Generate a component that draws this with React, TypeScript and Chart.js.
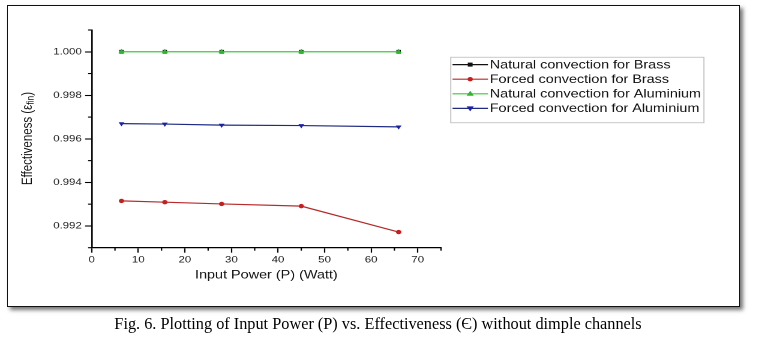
import React, { useEffect, useRef } from 'react';
import { Chart, registerables } from 'chart.js';

Chart.register(...registerables);

// ---- data ----
const powerWatt = [6.4, 15.7, 27.9, 45, 65.9];
const naturalBrass = [1.0, 1.0, 1.0, 1.0, 1.0];
const forcedBrass = [0.99315, 0.99309, 0.99301, 0.99291, 0.99172];
const naturalAluminium = [1.0, 1.0, 1.0, 1.0, 1.0];
const forcedAluminium = [0.9967, 0.99668, 0.99663, 0.99661, 0.99655];

const seriesNames = [
  'Natural convection for Brass',
  'Forced convection for Brass',
  'Natural convection for Aluminium',
  'Forced convection for Aluminium',
];
const xMajorTicks = [0, 10, 20, 30, 40, 50, 60, 70];
const xMinorTicks = [5, 15, 25, 35, 45, 55, 65, 75];
const yMajorTicks = [0.992, 0.994, 0.996, 0.998, 1.0];
const yMinorTicks = [0.991, 0.993, 0.995, 0.997, 0.999, 1.001];
const xTitle = 'Input Power (P) (Watt)';
const yTitleMain = 'Effectiveness (ε';
const yTitleSub = 'fin';
const yTitleEnd = ')';
const caption = 'Fig. 6. Plotting of Input Power (P) vs. Effectiveness (Є) without dimple channels';

// ---- styles ----
const SX = 1.2; // the reference figure is horizontally stretched
const FRAME_W = 634;
const SANS = '"Liberation Sans", Arial, sans-serif';
const colors = {
  black: '#111111',
  red: '#b52a2a',
  redPt: '#c81e1e',
  green: '#38cc38',
  greenPt: '#2fb52f',
  blue: '#1f2a80',
  bluePt: '#1a22a8',
};

function drawMarker(ctx: CanvasRenderingContext2D, style: string, x: number, y: number, color: string) {
  ctx.fillStyle = color;
  ctx.beginPath();
  if (style === 'rect') {
    ctx.rect(x - 2, y - 2, 4, 4);
  } else if (style === 'circle') {
    ctx.arc(x, y, 2.2, 0, Math.PI * 2);
  } else if (style === 'up') {
    ctx.moveTo(x, y - 3);
    ctx.lineTo(x + 3, y + 2);
    ctx.lineTo(x - 3, y + 2);
    ctx.closePath();
  } else {
    ctx.moveTo(x, y + 3);
    ctx.lineTo(x + 3, y - 2);
    ctx.lineTo(x - 3, y - 2);
    ctx.closePath();
  }
  ctx.fill();
}

const decorPlugin = {
  id: 'decor',
  afterDraw(chart: any) {
    const ctx: CanvasRenderingContext2D = chart.ctx;
    const xs = chart.scales.x;
    const ys = chart.scales.y;
    const area = chart.chartArea;
    ctx.save();
    // minor ticks
    ctx.strokeStyle = '#000';
    ctx.lineWidth = 1.1;
    xMinorTicks.forEach((v) => {
      const px = xs.getPixelForValue(v);
      ctx.beginPath();
      ctx.moveTo(px, area.bottom);
      ctx.lineTo(px, area.bottom + 3);
      ctx.stroke();
    });
    yMinorTicks.forEach((v) => {
      const py = ys.getPixelForValue(v);
      ctx.beginPath();
      ctx.moveTo(area.left - 3, py);
      ctx.lineTo(area.left, py);
      ctx.stroke();
    });

    // y axis title with subscript
    ctx.save();
    ctx.translate(23.3, 138.5);
    ctx.rotate(-Math.PI / 2);
    ctx.fillStyle = '#111';
    ctx.textBaseline = 'middle';
    const mainFont = `11.5px ${SANS}`;
    const subFont = `8.5px ${SANS}`;
    ctx.font = mainFont;
    const w1 = ctx.measureText(yTitleMain).width;
    const w3 = ctx.measureText(yTitleEnd).width;
    ctx.font = subFont;
    const w2 = ctx.measureText(yTitleSub).width;
    let cx = -(w1 + w2 + w3) / 2;
    ctx.font = mainFont;
    ctx.fillText(yTitleMain, cx, 0);
    cx += w1;
    ctx.font = subFont;
    ctx.fillText(yTitleSub, cx, 2.5);
    cx += w2;
    ctx.font = mainFont;
    ctx.fillText(yTitleEnd, cx, 0);
    ctx.restore();

    // legend
    const bx = 375.6, by = 57.3, bw = 211, bh = 65.4;
    ctx.fillStyle = '#ffffff';
    ctx.fillRect(bx, by, bw, bh);
    ctx.strokeStyle = '#c8c8c8';
    ctx.lineWidth = 1;
    ctx.strokeRect(bx, by, bw, bh);
    const rows = [64.6, 79.2, 93.8, 108.4];
    const lineCols = [colors.black, colors.red, colors.green, colors.blue];
    const ptCols = [colors.black, colors.redPt, colors.greenPt, colors.bluePt];
    const styles = ['rect', 'circle', 'up', 'down'];
    ctx.font = `12px ${SANS}`;
    ctx.textBaseline = 'middle';
    rows.forEach((ry, i) => {
      ctx.strokeStyle = lineCols[i];
      ctx.lineWidth = 1.2;
      ctx.beginPath();
      ctx.moveTo(bx + 1.5, ry);
      ctx.lineTo(bx + 31, ry);
      ctx.stroke();
      drawMarker(ctx, styles[i], bx + 16.2, ry, ptCols[i]);
      ctx.fillStyle = '#111';
      ctx.fillText(seriesNames[i], bx + 32.5, ry + 0.5);
    });
    ctx.restore();
  },
};

export default function App() {
  const canvasRef = useRef<HTMLCanvasElement | null>(null);

  useEffect(() => {
    if (!canvasRef.current) return;
    const toPts = (ys: number[]) => powerWatt.map((x, i) => ({ x, y: ys[i] }));
    const chart = new Chart(canvasRef.current, {
      type: 'line',
      data: {
        datasets: [
          {
            label: seriesNames[0],
            data: toPts(naturalBrass),
            borderColor: colors.black,
            backgroundColor: colors.black,
            borderWidth: 0.5,
            showLine: false,
            pointStyle: 'rect',
            pointRadius: 2.6,
            pointBorderWidth: 0,
            order: 5,
          },
          {
            label: seriesNames[1],
            data: toPts(forcedBrass),
            borderColor: colors.red,
            backgroundColor: colors.redPt,
            borderWidth: 1.2,
            pointStyle: 'circle',
            pointRadius: 2.2,
            pointBorderWidth: 0,
            order: 0,
          },
          {
            label: seriesNames[2],
            data: toPts(naturalAluminium),
            borderColor: colors.green,
            backgroundColor: colors.greenPt,
            borderWidth: 1.3,
            pointStyle: 'triangle',
            pointRadius: 3,
            pointBorderWidth: 0,
            order: -1,
          },
          {
            label: seriesNames[3],
            data: toPts(forcedAluminium),
            borderColor: colors.blue,
            backgroundColor: colors.bluePt,
            borderWidth: 1.2,
            pointStyle: 'triangle',
            pointRotation: 180,
            pointRadius: 2.8,
            pointBorderWidth: 0,
            order: 0,
          },
        ],
      },
      options: {
        animation: false,
        responsive: true,
        maintainAspectRatio: false,
        devicePixelRatio: 2,
        events: [],
        layout: { padding: { left: 0, top: 30, right: FRAME_W - 367.5, bottom: 62.8 } },
        plugins: {
          legend: { display: false },
          tooltip: { enabled: false },
          title: { display: false },
        },
        scales: {
          x: {
            type: 'linear',
            min: 0,
            max: 75,
            afterFit: (s: any) => {
              s.height = 34.5;
            },
            ticks: {
              stepSize: 5,
              autoSkip: false,
              maxRotation: 0,
              padding: 1.5,
              color: '#222',
              font: { family: SANS, size: 9.5 },
              callback: (v: any) => (xMajorTicks.includes(Math.round(Number(v))) ? String(Math.round(Number(v))) : ''),
            },
            grid: {
              display: true,
              drawOnChartArea: false,
              drawTicks: true,
              tickLength: 5,
              tickWidth: 1.1,
              tickColor: (c: any) =>
                c.tick && xMajorTicks.includes(Math.round(Number(c.tick.value))) ? '#000' : 'rgba(0,0,0,0)',
            },
            border: { display: true, color: '#000', width: 1.3 },
            title: {
              display: true,
              text: xTitle,
              padding: 0,
              color: '#111',
              font: { family: SANS, size: 12 },
            },
          },
          y: {
            type: 'linear',
            min: 0.991,
            max: 1.001,
            afterFit: (s: any) => {
              s.width = 76.4;
            },
            ticks: {
              stepSize: 0.001,
              autoSkip: false,
              padding: 2.8,
              color: '#222',
              font: { family: SANS, size: 9.5 },
              callback: (v: any) => {
                const n = Math.round(Number(v) * 1000) / 1000;
                return yMajorTicks.some((t) => Math.abs(t - n) < 1e-7) ? n.toFixed(3) : '';
              },
            },
            grid: {
              display: true,
              drawOnChartArea: false,
              drawTicks: true,
              tickLength: 5.5,
              tickWidth: 1.1,
              tickColor: (c: any) =>
                c.tick && yMajorTicks.some((t) => Math.abs(t - Number(c.tick.value)) < 1e-7) ? '#000' : 'rgba(0,0,0,0)',
            },
            border: { display: true, color: '#000', width: 1.3 },
            title: { display: false },
          },
        },
      },
      plugins: [decorPlugin],
    } as any);
    return () => chart.destroy();
  }, []);

  return (
    <div style={{ position: 'fixed', left: 0, top: 0, width: 761, height: 345, background: '#fff', overflow: 'hidden' }}>
      <div
        style={{
          position: 'absolute',
          left: 7,
          top: 5,
          width: 733,
          height: 301.5,
          boxSizing: 'border-box',
          border: '1.5px solid #111',
          boxShadow: '3px 3px 4px rgba(0,0,0,0.55)',
          background: '#fff',
        }}
      />
      <div
        style={{
          position: 'absolute',
          left: 0,
          top: 0,
          width: FRAME_W,
          height: 345,
          transform: `scaleX(${SX})`,
          transformOrigin: '0 0',
        }}
      >
        <canvas ref={canvasRef} />
      </div>
      <div
        style={{
          position: 'absolute',
          left: 0,
          top: 314.5,
          width: 756,
          textAlign: 'center',
          font: '16.3px "Liberation Serif", "Times New Roman", serif',
          lineHeight: '18px',
          color: '#000',
          whiteSpace: 'nowrap',
        }}
      >
        {caption}
      </div>
    </div>
  );
}
